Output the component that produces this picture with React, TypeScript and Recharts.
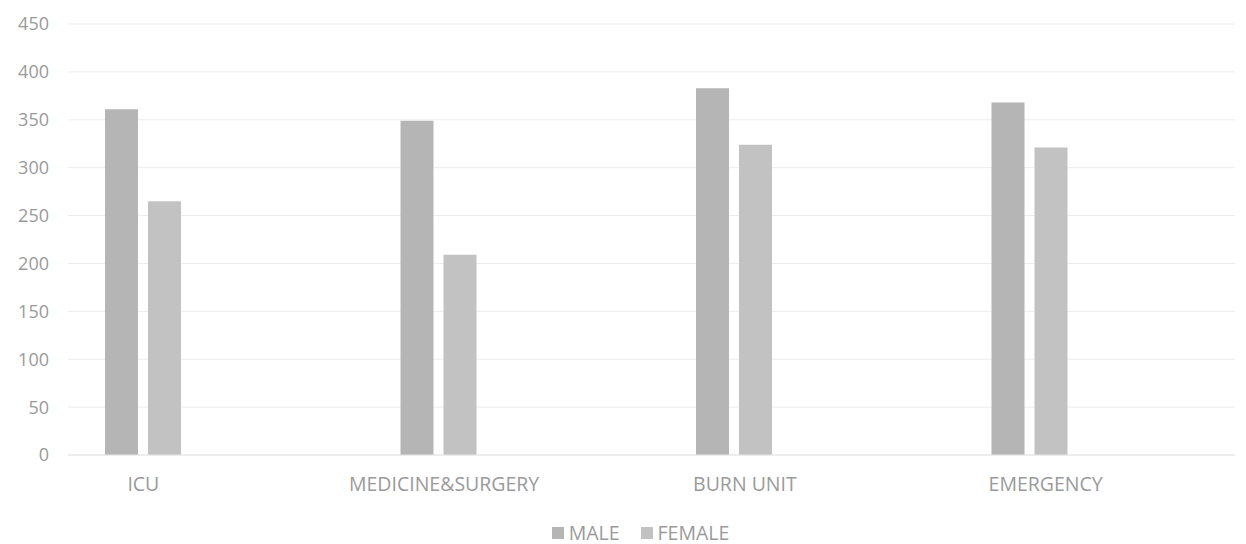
import React from "react";
import { BarChart, Bar, CartesianGrid, XAxis, YAxis, Legend } from "recharts";

const departments = ["ICU", "MEDICINE&SURGERY", "BURN UNIT", "EMERGENCY"];
const maleValues = [361, 349, 383, 368];
const femaleValues = [265, 209, 324, 321];
const yTicks = [0, 50, 100, 150, 200, 250, 300, 350, 400, 450];

const data = departments.map((name, i) => ({
  name,
  male: maleValues[i],
  female: femaleValues[i],
}));

const textColor = "#9a9a9a";
const font = "'Open Sans', sans-serif";

function LegendContent() {
  const items = [
    { label: "MALE", color: "#b5b5b5" },
    { label: "FEMALE", color: "#c2c2c2" },
  ];
  return (
    <div style={{ display: "flex", justifyContent: "center", fontFamily: font, fontSize: 19.5, lineHeight: "24px", color: textColor, paddingLeft: 67 }}>
      {items.map((it) => (
        <span key={it.label} style={{ display: "inline-flex", alignItems: "center", marginRight: 21 }}>
          <span style={{ width: 12, height: 12, background: it.color, marginRight: 5, display: "inline-block" }} />
          {it.label}
        </span>
      ))}
    </div>
  );
}

export default function App() {
  return (
    <div style={{ position: "absolute", left: 0, top: 0, width: 1246, height: 544, background: "#fff" }}>
      <BarChart
        width={1246}
        height={544}
        data={data}
        margin={{ top: 24, right: 11, left: 0, bottom: 0 }}
        barSize={33}
        barGap={10}
      >
        <CartesianGrid vertical={false} stroke="#ececec" />
        <XAxis dataKey="name" xAxisId="bars" hide height={0} padding={{ left: -73, right: 58 }} />
        {/* label axis: the scanned labels sit on a slightly wider spacing than the bars */}
        <XAxis
          dataKey="name"
          xAxisId="labels"
          height={59}
          padding={{ left: -75, right: 39 }}
          axisLine={{ stroke: "#e6e6e6" }}
          tickLine={false}
          tickMargin={16}
          tick={{ fill: textColor, fontSize: 19.5, fontFamily: font }}
          interval={0}
        />
        <YAxis
          width={68}
          domain={[0, 450]}
          ticks={yTicks}
          axisLine={false}
          tickLine={false}
          tickMargin={13}
          tick={{ fill: textColor, fontSize: 18, fontFamily: font }}
        />
        <Legend verticalAlign="bottom" height={30} wrapperStyle={{ bottom: -7 }} content={<LegendContent />} />
        <Bar dataKey="male" xAxisId="bars" name="MALE" fill="#b5b5b5" isAnimationActive={false} />
        <Bar dataKey="female" xAxisId="bars" name="FEMALE" fill="#c2c2c2" isAnimationActive={false} />
      </BarChart>
    </div>
  );
}
